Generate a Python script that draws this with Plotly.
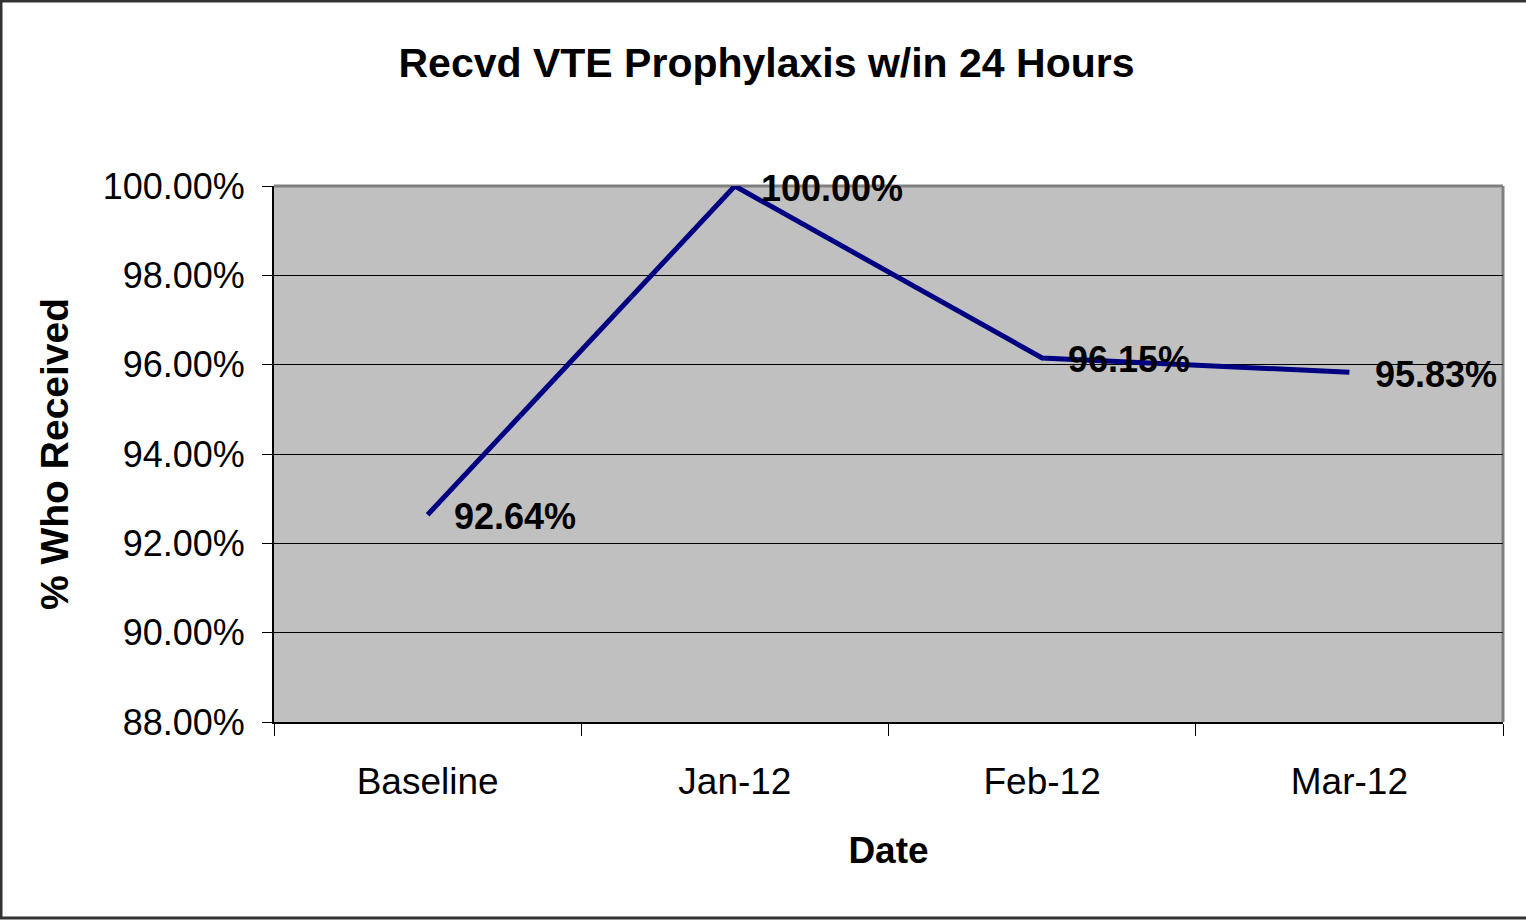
import plotly.graph_objects as go

categories = ["Baseline", "Jan-12", "Feb-12", "Mar-12"]
values = [0.9264, 1.0, 0.9615, 0.9583]
labels = ["92.64%", "100.00%", "96.15%", "95.83%"]
y_ticks = [0.88, 0.90, 0.92, 0.94, 0.96, 0.98, 1.00]

FONT = "Liberation Sans, Arial, sans-serif"

fig = go.Figure()
fig.add_trace(go.Scatter(
    x=categories, y=values, mode="lines",
    line=dict(color="#000080", width=5),
    showlegend=False,
))

W, H = 1526, 920
L, R, T, B = 274, 23, 186, 198
pw, ph = W - L - R, H - T - B

def px_x(x):
    return (x - L) / pw

def px_y(y):
    return (H - B - y) / ph

annotations = [
    dict(x=c, y=v, xref="x", yref="y", text="<b>%s</b>" % t, showarrow=False,
         xanchor="left", yanchor="middle", xshift=24, yshift=-2,
         font=dict(family=FONT, size=36, color="black"))
    for c, v, t in zip(categories, values, labels)
]

fig.update_layout(
    width=W, height=H,
    margin=dict(l=L, r=R, t=T, b=B),
    paper_bgcolor="white", plot_bgcolor="#C0C0C0",
    font=dict(family=FONT, color="black"),
    title=dict(text="<b>Recvd VTE Prophylaxis w/in 24 Hours</b>",
               x=(396 + 1137) / 2 / W, xanchor="center",
               y=1 - 63 / H, yanchor="middle",
               font=dict(size=41, family=FONT, color="black")),
    xaxis=dict(
        type="category", range=[-0.5, 3.5],
        tickson="boundaries", ticks="outside", ticklen=12, tickcolor="black",
        showline=True, linecolor="black", linewidth=2,
        showgrid=False, ticklabelstandoff=26,
        tickfont=dict(size=37, family=FONT, color="black"),
        title=dict(text="<b>Date</b>", font=dict(size=37, family=FONT, color="black"), standoff=36),
    ),
    yaxis=dict(
        range=[0.88, 1.0], tickvals=y_ticks, tickformat=".2%",
        ticks="outside", ticklen=10, tickcolor="black",
        showline=True, linecolor="black", linewidth=2,
        showgrid=True, gridcolor="black", gridwidth=1,
        zeroline=False, ticklabelstandoff=10,
        tickfont=dict(size=36, family=FONT, color="black"),
        title=dict(text="<b>% Who Received</b>", font=dict(size=39, family=FONT, color="black"), standoff=22),
    ),
    annotations=annotations,
    shapes=[
        dict(type="line", xref="paper", yref="paper", x0=0, x1=1, y0=1, y1=1,
             line=dict(color="#808080", width=3), layer="below"),
        dict(type="line", xref="paper", yref="paper", x0=1, x1=1, y0=0, y1=1,
             line=dict(color="#808080", width=3), layer="below"),
        dict(type="rect", xref="paper", yref="paper",
             x0=px_x(1), x1=px_x(W + 10), y0=px_y(H - 2), y1=px_y(1),
             line=dict(color="#333333", width=3), fillcolor="rgba(0,0,0,0)", layer="above"),
    ],
)

fig.write_html("out.html", config={"displayModeBar": False},
               post_script="document.body.style.margin='0';")
